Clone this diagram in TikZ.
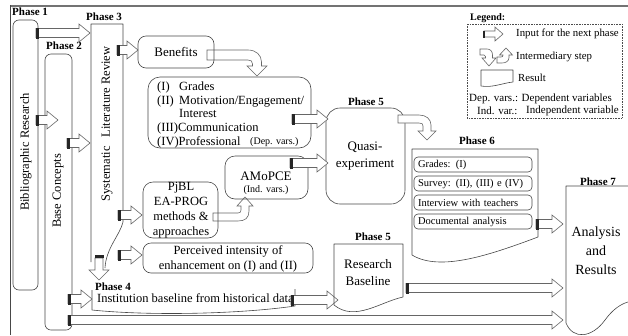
\documentclass[tikz,border=0pt]{standalone}
\usepackage{fontspec}
\setmainfont{Liberation Serif}
\newcommand\myfs[2]{\fontsize{#1}{#2}\selectfont}
\newcommand\blockarr[3]{%
  \draw[blk] ({#1},{#3-4.5}) -- ({#2-11},{#3-4.5}) -- ({#2-11},{#3-9}) -- ({#2},{#3}) -- ({#2-11},{#3+9}) -- ({#2-11},{#3+4.5}) -- ({#1},{#3+4.5}) -- cycle;
  \fill[stubc] ({#1},{#3-5.5}) rectangle ({#1+3},{#3+5.5});}
\tikzset{
  ln/.style={draw=black!72, line width=0.6pt},
  rbox/.style={draw=black!72, line width=0.6pt, rounded corners=#1, inner sep=0pt},
  blk/.style={draw=black!60, fill=white, line width=0.6pt, line join=miter},
  stubc/.style={fill=black!85},
  ph/.style={font=\bfseries\myfs{11}{12}, inner sep=0pt},
  txt/.style={font=\myfs{12.5}{14.5}, inner sep=0pt, align=center},
  sm/.style={font=\myfs{10.8}{12}, inner sep=0pt},
  ib/.style={draw=black!72, line width=0.6pt, rounded corners=4pt, minimum width=118pt, minimum height=15pt, text width=110pt, inner xsep=4pt, inner ysep=0pt, align=left, font=\myfs{10.5}{12}}
}
\begin{document}
\begin{tikzpicture}[x=1pt,y=-1pt,line join=round]
\useasboundingbox (0,0) rectangle (628,335);
% frame
\draw[black!55, line width=2pt] (10,6) -- (628,6);
\draw[black!72, line width=0.8pt] (10,5) -- (10,335);

% Phase 1
\node[ph, anchor=west] (p1) at (12,12) {Phase 1};
\node[rbox=6pt, minimum width=25pt, minimum height=270pt] (b1) at (25.5,155) {};
\node[txt, rotate=90] (t1) at (26,152) {Bibliographic Research};

% Phase 2
\node[ph, anchor=west] (p2) at (46,46) {Phase 2};
\node[rbox=6pt, minimum width=27pt, minimum height=276pt] (b2) at (58.5,192) {};
\node[txt, rotate=90] (t2) at (58,191) {Base Concepts};

% Phase 3
\node[ph, anchor=west] (p3) at (86,17) {Phase 3};
\draw[ln] (91,262) -- (91,24) -- (123,24) -- (123,222) .. controls (120,235) and (106,248) .. (105,268);
\node[txt, rotate=90] (t3) at (107,124) {Systematic\hspace{6pt} Literature Review};

% arrows from phase 1 / 2
\blockarr{36}{90}{33}
\blockarr{36}{58}{120}
\blockarr{67}{90}{143}

% Benefits
\draw[blk] (207,50) -- (248,50) .. controls (256,50) and (261.5,55) .. (261.5,62) -- (261.5,66) -- (267,66) -- (257,76) -- (247,66) -- (252.5,66) -- (252.5,64) .. controls (252.5,61) and (251,60) .. (248,60) -- (207,60) -- cycle;
\node[rbox=8pt, minimum width=76pt, minimum height=32pt, txt, font=\myfs{13}{15}] (ben) at (176,52) {Benefits};
\blockarr{117}{138}{50}

% Dependent variables box
\node[rbox=12pt, minimum width=163pt, minimum height=71pt] (dep) at (229.5,112.5) {};
\node[txt, anchor=base west] (l1) at (157,90) {(I)};
\node[txt, anchor=base west] (d1) at (179,90) {Grades};
\node[txt, anchor=base west] (l2) at (157,104) {(II)};
\node[txt, anchor=base west] (d2) at (179,104) {Motivation/Engagement/};
\node[txt, anchor=base west] (d2b) at (179,117.5) {Interest};
\node[txt, anchor=base west] (l3) at (157,131) {(III)Communication};
\node[txt, anchor=base west] (l4) at (157,145) {(IV)Professional};
\node[inner sep=0pt, font=\myfs{10}{12}, anchor=base west] (dv) at (250,144) {(Dep. vars.)};

% Quasi-experiment
\node[ph] (p5a) at (366,102) {Phase 5};
\node[rbox=14pt, minimum width=79pt, minimum height=96pt] (qe) at (365.5,156) {};
\node[txt, font=\myfs{13}{17}] (qet) at (365,156) {Quasi-\\experiment};
\blockarr{292}{328}{119}
\draw[blk] (398,115) -- (419,115) .. controls (426,115) and (431,119) .. (431,125) -- (431,131) -- (436,131) -- (427,140) -- (418,131) -- (423,131) -- (423,126) .. controls (423,124) and (422,123) .. (419,123) -- (398,123) -- cycle;

% PjBL
\draw[blk] (213,213) -- (238,213) .. controls (240,213) and (241,212) .. (241,210) -- (241,206) -- (237,206) -- (245,197) -- (253,206) -- (249,206) -- (249,211) .. controls (249,218) and (245,221) .. (238,221) -- (213,221) -- cycle;
\node[rbox=10pt, minimum width=75pt, minimum height=56pt] (pj) at (180.5,210) {};
\node[txt, font=\myfs{12.5}{14.8}] (pjt) at (181,210) {PjBL\\EA-PROG\\methods \&\\approaches};
\blockarr{118}{142}{215}

% AMoPCE
\node[rbox=10pt, minimum width=83pt, minimum height=43pt] (am) at (266.5,177.5) {};
\node[txt, font=\myfs{13}{15}] (amt) at (266,176) {AMoPCE};
\node[inner sep=0pt, font=\myfs{10}{12}] (amv) at (266,190) {(Ind. vars.)};
\blockarr{290}{328}{163}

% Perceived
\node[rbox=8pt, minimum width=170pt, minimum height=30pt] (pe) at (228,258) {};
\node[txt, font=\myfs{12.5}{15}] (pet) at (228,258.5) {Perceived intensity of\\enhancement on (I) and (II)};
\blockarr{118}{142}{255}

% down arrow phase 3 -> phase 4
\draw[blk] (95,258) -- (103,258) -- (103,270) -- (109,270) -- (99,280) -- (89,270) -- (95,270) -- cycle;
\fill[stubc] (94.5,255) rectangle (103.5,258);

% Phase 4
\node[ph] (p4) at (113,287) {Phase 4};
\draw[ln] (92,290) -- (92,310) .. controls (150,316) and (240,314) .. (295,306) -- (295,289);
\node[txt, anchor=west] (p4t) at (97,298.5) {Institution baseline from historical data};
\blockarr{68}{92}{299}
\blockarr{291}{338}{300}

% Research baseline
\node[ph] (p5b) at (373,237) {Phase 5};
\draw[ln] (334,305) -- (334,244) -- (403,244) -- (403,297) .. controls (380,302) and (355,322) .. (334,305);
\node[txt, font=\myfs{13}{17}] (rbt) at (368,272.5) {Research\\Baseline};

% Phase 6
\node[ph] (p6) at (477,141) {Phase 6};
\draw[ln] (412,255) -- (412,149) -- (538,149) -- (538,237) .. controls (490,255) and (440,272) .. (412,255);
\node[ib] (g6a) at (473,164.5) {Grades: (I)};
\node[ib] (g6b) at (473,183.5) {Survey: (II), (III) e (IV)};
\node[ib] (g6c) at (473,202.5) {Interview with teachers};
\node[ib] (g6d) at (473,221.5) {Documental analysis};
\blockarr{536}{563}{224}

% Phase 7
\node[ph] (p7) at (598,182) {Phase 7};
\draw[ln] (628,186) -- (566,186) -- (566,323) .. controls (573,340) and (592,338) .. (605,320) .. controls (613,309) and (621,304) .. (628,302);
\node[txt, font=\myfs{14}{19}] (p7t) at (596,251) {Analysis\\and\\Results};
\blockarr{406}{563}{288}
\blockarr{68}{563}{320}

% Legend
\node[inner sep=0pt, font=\bfseries\myfs{10}{12}, anchor=west] (lg) at (470,18) {Legend:};
\draw[black!70, densely dotted, line width=0.6pt] (467,24) rectangle (622,118);
\draw[blk] (484,31) -- (495,31) -- (495,27) -- (503,34) -- (495,41) -- (495,37) -- (484,37) -- cycle;
\fill[stubc] (482.5,30.5) rectangle (485,37.5);
\node[sm, anchor=west] (lg1) at (516,34) {Input for the next phase};
\draw[blk] (480,49) -- (487,49) .. controls (490.5,49) and (492.5,51.5) .. (492.5,55) -- (492.5,58) -- (496,58) -- (489,66) -- (482,58) -- (485.5,58) -- (485.5,56.5) .. controls (485.5,55.5) and (485,55) .. (484,55) -- (480,55) -- cycle;
\draw[blk] (497,57) -- (501,57) .. controls (502.5,57) and (503,56.5) .. (503,55) -- (499.5,55) -- (506,48) -- (512.5,55) -- (509,55) -- (509,57.5) .. controls (509,61) and (506,63) .. (502,63) -- (497,63) -- cycle;
\node[sm, anchor=west] (lg2) at (516,57) {Intermediary step};
\draw[ln] (481,86) -- (481,70) -- (513,70) -- (513,82) .. controls (503,83) and (492,88) .. (481,86);
\node[sm, anchor=west] (lg3) at (518,78) {Result};
\node[sm, font=\myfs{11}{12}, anchor=west] (lg4) at (469,99) {Dep. vars.: Dependent variables};
\node[sm, font=\myfs{11}{12}, anchor=west] (lg5a) at (477,110.5) {Ind. var.:};
\node[sm, font=\myfs{11}{12}, anchor=west] (lg5b) at (526,110.5) {Independent variable};
\end{tikzpicture}
\end{document}
